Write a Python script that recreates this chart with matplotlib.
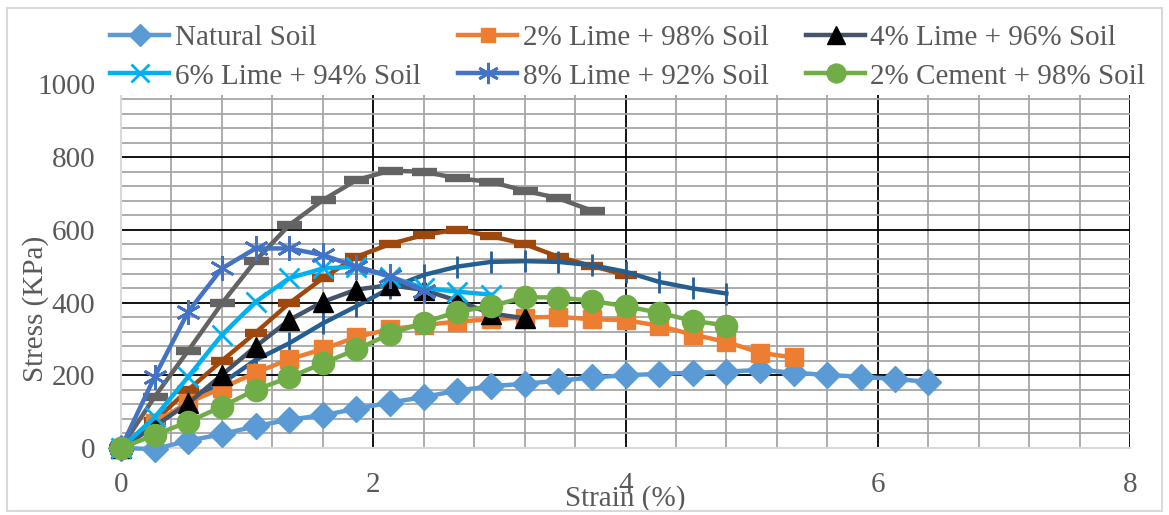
import matplotlib
matplotlib.use("Agg")
import matplotlib.pyplot as plt
from matplotlib.patches import Rectangle
import numpy as np

# strain step of the readings (%)
step = 0.4 / 1.5

natural = [0, -3, 20, 38, 60, 78, 90, 108, 125, 140, 158, 170, 177, 185, 194,
           200, 204, 207, 210, 215, 207, 201, 196, 190, 182]
lime2 = [0, 70, 125, 165, 207, 244, 272, 305, 327, 338, 348, 354, 359, 361, 354,
         352, 336, 312, 292, 262, 249]
lime4 = [0, 60, 123, 201, 279, 352, 402, 436, 448, 435, 405, 370, 357]
lime6 = [0, 84, 196, 311, 402, 467, 494, 499, 471, 440, 430, 422]
lime8 = [0, 196, 375, 494, 549, 549, 531, 499, 473, 432]
cement2 = [0, 36, 72, 114, 160, 194, 233, 271, 314, 345, 375, 390, 415, 414, 405,
           390, 372, 350, 337]
# series whose legend entries are cut off in the original
extra_gray = [0, 141, 268, 398, 515, 613, 682, 737, 763, 760, 742, 732, 708, 687, 653]
extra_brown = [0, 75, 160, 240, 317, 398, 467, 526, 561, 586, 601, 583, 561, 526,
               501, 476]
extra_blue = [0, 65, 127, 178, 242, 288, 343, 390, 440, 476, 499, 512, 514, 512,
              503, 485, 457, 439, 425]

labels = ["Natural Soil", "2% Lime + 98% Soil", "4% Lime + 96% Soil",
          "6% Lime + 94% Soil", "8% Lime + 92% Soil", "2% Cement + 98% Soil"]

plt.rcParams['font.family'] = ['Liberation Serif', 'DejaVu Serif']
txt = '#595959'

fig = plt.figure(figsize=(11.69, 5.15), dpi=100)
ax = fig.add_axes([121 / 1169, 1 - 448 / 515, (1130 - 121) / 1169, (448 - 84.5) / 515])


def strain(vals):
    return np.arange(len(vals)) * step


lw = 3.2
h = {}
ax.plot(strain(extra_gray), extra_gray, color='#636363', lw=lw, marker='_', ms=18,
        mew=6, zorder=3, clip_on=False)
ax.plot(strain(extra_brown), extra_brown, color='#9E480E', lw=lw, marker='_', ms=16,
        mew=6, zorder=3, clip_on=False)
ax.plot(strain(extra_blue), extra_blue, color='#255E91', lw=lw, marker='|', ms=16,
        mew=2, zorder=3, clip_on=False)
h[0], = ax.plot(strain(natural), natural, color='#5B9BD5', lw=lw, marker='D', ms=13,
                zorder=4, clip_on=False)
h[1], = ax.plot(strain(lime2), lime2, color='#ED7D31', lw=lw, marker='s', ms=12.5,
                zorder=4, clip_on=False)
h[2], = ax.plot(strain(lime4), lime4, color='#44546A', lw=lw, marker='^', ms=15,
                mfc='black', mec='black', zorder=4, clip_on=False)
h[3], = ax.plot(strain(lime6), lime6, color='#00B0F0', lw=lw, marker='x', ms=15,
                mew=2, zorder=4, clip_on=False)
h[4], = ax.plot(strain(lime8), lime8, color='#4472C4', lw=lw, marker=(6, 2, 0), ms=18,
                mew=2, zorder=4, clip_on=False)
h[5], = ax.plot(strain(cement2), cement2, color='#70AD47', lw=lw, marker='o', ms=16,
                zorder=5, clip_on=False)

ax.set_xlim(0, 8)
ax.set_ylim(0, 1000)
ax.set_xticks([0, 2, 4, 6, 8])
ax.set_yticks([0, 200, 400, 600, 800, 1000])
ax.set_xticks(np.arange(0, 8.01, 0.4), minor=True)
ax.set_yticks(np.arange(0, 1000.1, 40), minor=True)
ax.grid(which='minor', color='#A6A6A6', lw=1.3, zorder=0)
ax.grid(which='major', color='black', lw=1.3, zorder=1)
ax.set_axisbelow(True)
for s in ax.spines.values():
    s.set_visible(False)
for side in ['left', 'bottom']:
    ax.spines[side].set_visible(True)
    ax.spines[side].set_color('#D9D9D9')
    ax.spines[side].set_linewidth(1.5)
    ax.spines[side].set_zorder(2)
ax.tick_params(which='both', length=0)
ax.tick_params(axis='y', pad=18.5, labelsize=21, labelcolor=txt)
ax.tick_params(axis='x', pad=17, labelsize=21, labelcolor=txt)

ax.text(0.5, -0.14, 'Strain (%)', transform=ax.transAxes, ha='center', va='center',
        fontsize=21, color=txt)
fig.text(36 / 1169, 1 - 309 / 515, 'Stress (KPa)', rotation=90, ha='center',
         va='center', fontsize=21, color=txt)

order = [0, 3, 1, 4, 2, 5]
leg = fig.legend([h[i] for i in order], [labels[i] for i in order], ncol=3,
                 loc='upper left', bbox_to_anchor=(90 / 1169, 1 - 4 / 515),
                 frameon=True, fontsize=21, handlelength=2.0, handletextpad=0.2,
                 columnspacing=1.3, labelspacing=0.42, borderpad=0.2,
                 markerscale=0.85)
leg.get_frame().set_facecolor('white')
leg.get_frame().set_edgecolor('none')
leg.get_frame().set_alpha(1)
for t in leg.get_texts():
    t.set_color(txt)

fig.patches.append(Rectangle((7 / 1169, 4 / 515), 1 - 14 / 1169, 1 - 12 / 515,
                             transform=fig.transFigure, fill=False,
                             edgecolor='#D9D9D9', lw=1.5))

fig.savefig('out.png', dpi=100, facecolor='white')
